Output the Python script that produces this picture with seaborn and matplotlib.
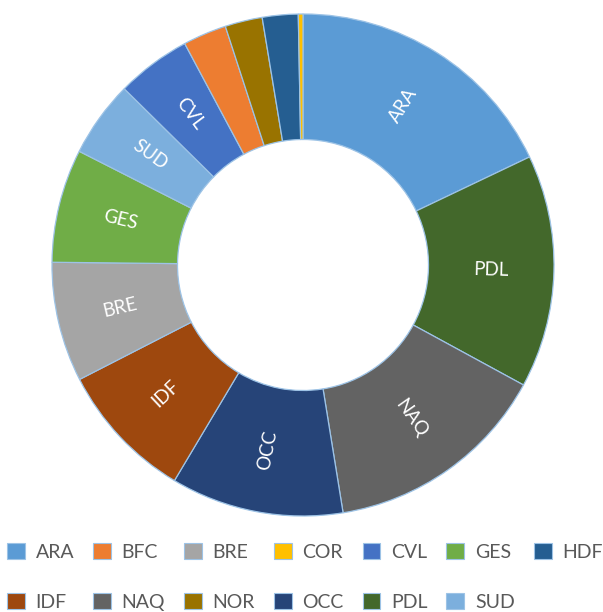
import matplotlib
matplotlib.use("Agg")
import matplotlib.pyplot as plt
import seaborn as sns
import numpy as np

# Data (clockwise order from 12 o'clock, as drawn)
regions = ["ARA", "PDL", "NAQ", "OCC", "IDF", "BRE", "GES", "SUD", "CVL", "BFC", "NOR", "HDF", "COR"]
shares = [17.9, 15.0, 14.5, 11.1, 8.9, 7.7, 7.3, 4.9, 4.8, 2.8, 2.4, 2.3, 0.3]
colors_map = {
    "ARA": "#5B9BD5", "BFC": "#ED7D31", "BRE": "#A5A5A5", "COR": "#FFC000",
    "CVL": "#4472C4", "GES": "#70AD47", "HDF": "#255E91", "IDF": "#9E480E",
    "NAQ": "#636363", "NOR": "#997300", "OCC": "#264478", "PDL": "#43682B",
    "SUD": "#7CAFDD",
}
# legend order (alphabetical, row-major)
legend_order = ["ARA", "BFC", "BRE", "COR", "CVL", "GES", "HDF",
                "IDF", "NAQ", "NOR", "OCC", "PDL", "SUD"]
label_min_share = 4.0

sns.set_theme(style="white")
plt.rcParams['font.family'] = ['Lato', 'DejaVu Sans']

fig = plt.figure(figsize=(6.03, 6.12), dpi=100)
W, H = 603, 612
cx, cy, R = 303, 265, 251
ax = fig.add_axes([(cx - R) / W, (H - cy - R) / H, 2 * R / W, 2 * R / H])

wedges, texts = ax.pie(
    shares, labels=regions, colors=[colors_map[r] for r in regions],
    startangle=90, counterclock=False, radius=1.0,
    labeldistance=0.75, rotatelabels=True,
    wedgeprops=dict(width=0.5, edgecolor="#9DC3E6", linewidth=0.9),
    textprops=dict(color="white", fontsize=13.5),
)
for t, s in zip(texts, shares):
    t.set_ha("center")
    t.set_va("center")
    t.set_rotation_mode("anchor")
    if s < label_min_share:
        t.set_visible(False)

ax.set_xlim(-1, 1)
ax.set_ylim(-1, 1)
ax.set_aspect("equal")
ax.axis("off")

# reorder for matplotlib's column-major fill with 7 columns x 2 rows
n_cols = 7
ordered = []
row1 = legend_order[:n_cols]
row2 = legend_order[n_cols:]
for i in range(n_cols):
    ordered.append(row1[i])
    if i < len(row2):
        ordered.append(row2[i])
handles = [matplotlib.patches.Patch(facecolor=colors_map[r], edgecolor="#9DC3E6", linewidth=0.8) for r in ordered]
leg = fig.legend(handles, ordered, loc="upper left",
                 bbox_to_anchor=(7 / W, (H - 543) / H), ncol=n_cols,
                 frameon=False, fontsize=14, handlelength=0.92, handleheight=0.92,
                 handletextpad=0.55, columnspacing=0.97, labelspacing=1.65,
                 borderpad=0, borderaxespad=0)
for t in leg.get_texts():
    t.set_color("#595959")

fig.savefig("out.png", dpi=100, facecolor="white")
